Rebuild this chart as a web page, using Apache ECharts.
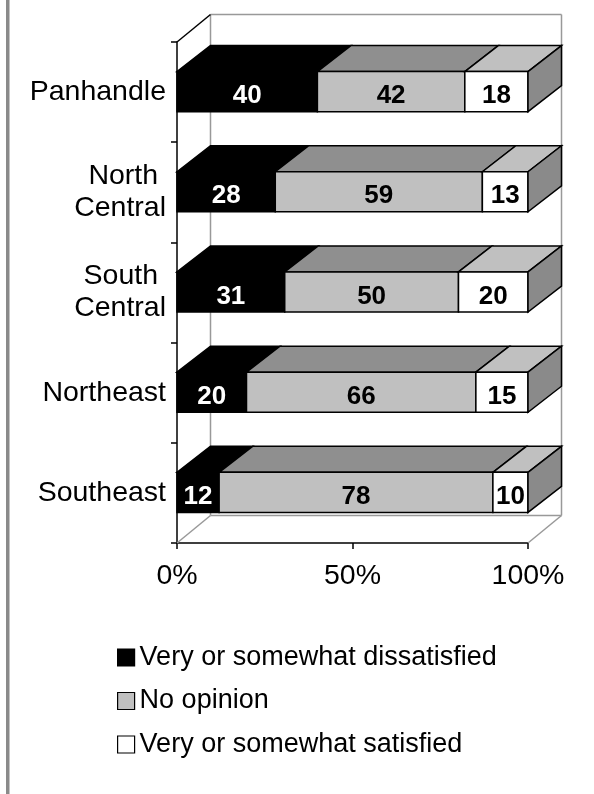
<!DOCTYPE html>
<html>
<head>
<meta charset="utf-8">
<script src="https://cdn.jsdelivr.net/npm/echarts@6/dist/echarts.min.js"></script>
<style>
html,body{margin:0;padding:0;background:#fff;}
#c{width:594px;height:794px;}
</style>
</head>
<body>
<div id="c"></div>
<script>
var categories = ['Panhandle', 'North \nCentral', 'South \nCentral', 'Northeast', 'Southeast'];
var seriesNames = ['Very or somewhat dissatisfied', 'No opinion', 'Very or somewhat satisfied'];
var dissatisfied = [40, 28, 31, 20, 12];
var noOpinion = [42, 59, 50, 66, 78];
var satisfied = [18, 13, 20, 15, 10];
var xTicks = [0, 50, 100];

var FONT = 'Liberation Sans, Arial, sans-serif';
var DX = 33.5, DY = -26, WDY = -27.5;
var faces = [
  {front: '#000000', top: '#000000', side: '#000000', label: '#ffffff'},
  {front: '#c0c0c0', top: '#8f8f8f', side: '#8a8a8a', label: '#000000'},
  {front: '#ffffff', top: '#c0c0c0', side: '#8a8a8a', label: '#000000'}
];
var values = [dissatisfied, noOpinion, satisfied];

function buildData(si) {
  var out = [];
  for (var i = 0; i < categories.length; i++) {
    var total = dissatisfied[i] + noOpinion[i] + satisfied[i];
    var start = 0;
    for (var k = 0; k < si; k++) start += values[k][i];
    var end = start + values[si][i];
    out.push([start / total * 100, end / total * 100, i, values[si][i]]);
  }
  return out;
}

function makeRender(si) {
  var f = faces[si];
  var last = si === values.length - 1;
  return function (params, api) {
    var s = api.value(0), e = api.value(1), cat = api.value(2), val = api.value(3);
    var p0 = api.coord([s, cat]);
    var p1 = api.coord([e, cat]);
    var band = api.size([0, 1])[1];
    var h = band * 0.4;
    var yc = p0[1] - 0.5;
    var t = yc - h / 2, b = yc + h / 2;
    var x0 = p0[0], x1 = p1[0];
    var ls = {stroke: '#000', lineWidth: 1.5, lineJoin: 'miter'};
    var children = [
      {type: 'polygon', shape: {points: [[x0, t], [x0 + DX, t + DY], [x1 + DX, t + DY], [x1, t]]},
        style: Object.assign({fill: f.top}, ls)},
      {type: 'rect', shape: {x: x0, y: t, width: x1 - x0, height: h},
        style: Object.assign({fill: f.front}, ls)}
    ];
    if (last) {
      children.push({type: 'polygon', shape: {points: [[x1, t], [x1 + DX, t + DY], [x1 + DX, b + DY], [x1, b]]},
        style: Object.assign({fill: f.side}, ls)});
    }
    children.push({type: 'text', style: {text: String(val), x: (x0 + x1) / 2, y: yc + 4.5,
      align: 'center', verticalAlign: 'middle', fill: f.label,
      fontSize: 26, fontWeight: 'bold', fontFamily: FONT}});
    return {type: 'group', children: children};
  };
}

function renderWalls(params, api) {
  var cs = params.coordSys;
  var x = cs.x, y = cs.y, w = cs.width, h = cs.height;
  var g = {stroke: '#999', lineWidth: 1.5};
  function ln(a, b, st) { return {type: 'line', shape: {x1: a[0], y1: a[1], x2: b[0], y2: b[1]}, style: st}; }
  return {type: 'group', children: [
    ln([x + DX, y + WDY], [x + w + DX, y + WDY], g),
    ln([x + w + DX, y + WDY], [x + w + DX, y + h + WDY], g),
    ln([x + DX, y + WDY], [x + DX, y + h + WDY], g),
    ln([x + DX, y + h + WDY], [x + w + DX, y + h + WDY], g),
    ln([x, y + h], [x + DX, y + h + WDY], g),
    ln([x + w, y + h], [x + w + DX, y + h + WDY], g),
    ln([x, y], [x + DX, y + WDY], {stroke: '#000', lineWidth: 1.5})
  ]};
}

var series = [{
  type: 'custom', name: 'walls', renderItem: renderWalls, data: [[0, 0]],
  encode: {x: 0, y: 1}, silent: true, z: 1
}];
for (var si = 0; si < values.length; si++) {
  series.push({
    type: 'custom', name: seriesNames[si], renderItem: makeRender(si),
    data: buildData(si), encode: {x: [0, 1], y: 2}, z: 2 + si,
    itemStyle: {color: faces[si].front, borderColor: '#000', borderWidth: 1}
  });
}

var chart = echarts.init(document.getElementById('c'), null, {renderer: 'canvas'});
chart.setOption({
  animation: false,
  backgroundColor: '#fff',
  grid: {left: 177, top: 42, width: 351, height: 501},
  xAxis: {
    type: 'value', min: 0, max: 100, interval: 50,
    axisLine: {show: true, lineStyle: {color: '#000', width: 1.5}},
    axisTick: {show: true, length: 6, lineStyle: {color: '#000', width: 1.5}},
    splitLine: {show: false},
    axisLabel: {formatter: function (v) { return xTicks.indexOf(v) >= 0 ? v + '%' : ''; },
      color: '#000', fontSize: 28.5, fontFamily: FONT, margin: 19}
  },
  yAxis: {
    type: 'category', data: categories, inverse: true,
    axisLine: {show: true, lineStyle: {color: '#000', width: 1.5}},
    axisTick: {show: true, length: 6, lineStyle: {color: '#000', width: 1.5}},
    splitLine: {show: false},
    axisLabel: {color: '#000', fontSize: 28.5, fontFamily: FONT, margin: 11, lineHeight: 32, align: 'right'}
  },
  legend: {
    orient: 'vertical', left: 117, top: 644, padding: 0,
    itemWidth: 17, itemHeight: 17, itemGap: 16.5, itemTextGap: 8, icon: 'rect',
    textStyle: {color: '#000', fontSize: 27, fontFamily: FONT, lineHeight: 27},
    data: seriesNames.map(function (n, i) {
      return {name: n, itemStyle: {color: faces[i].front, borderColor: '#000', borderWidth: 1.2}};
    })
  },
  graphic: [{type: 'rect', shape: {x: 6, y: 0, width: 3.5, height: 794}, style: {fill: '#8a8a8a'}, silent: true}],
  series: series
});
</script>
</body>
</html>
